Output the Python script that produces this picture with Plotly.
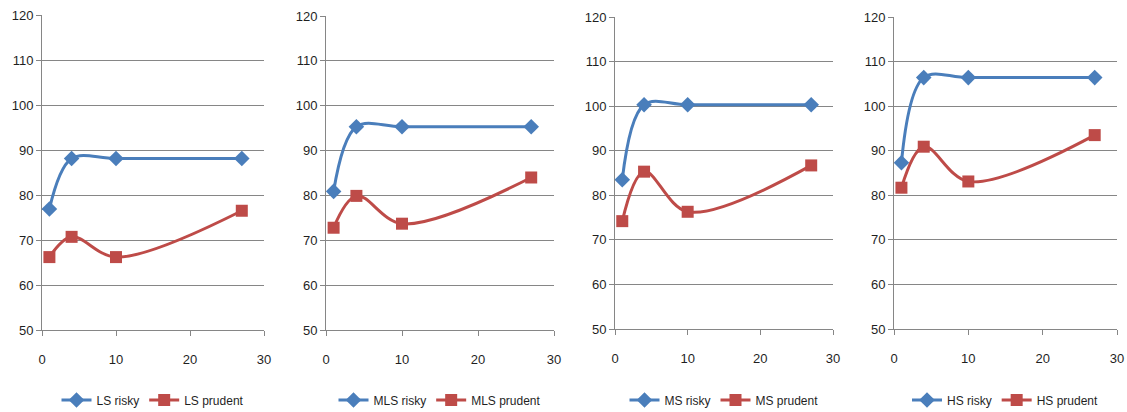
import plotly.graph_objects as go

x_vals = [1, 4, 10, 27]
groups = ["LS", "MLS", "MS", "HS"]
risky = {
    "LS": [76.9, 88.1, 88.1, 88.1],
    "MLS": [80.9, 95.3, 95.3, 95.3],
    "MS": [83.5, 100.3, 100.3, 100.3],
    "HS": [87.3, 106.4, 106.4, 106.4],
}
prudent = {
    "LS": [66.2, 70.7, 66.2, 76.5],
    "MLS": [72.8, 79.9, 73.7, 84.0],
    "MS": [74.2, 85.3, 76.3, 86.7],
    "HS": [81.7, 90.9, 83.1, 93.5],
}
x_ticks = [0, 10, 20, 30]
y_ticks = [50, 60, 70, 80, 90, 100, 110, 120]

W, H = 1127, 412
# plot-area pixel boxes (left, right, top, bottom)
boxes = [(42, 264, 15, 330), (326, 554, 16, 330), (615, 833, 17, 329), (894, 1117, 17, 329)]

BLUE = "#4A7EBB"
RED = "#BE4B48"
FONT = "Liberation Sans, Arial, sans-serif"
TXT = "#1f1f1f"

fig = go.Figure()
layout = dict(
    width=W, height=H, margin=dict(l=0, r=0, t=0, b=0, autoexpand=False),
    paper_bgcolor="white", plot_bgcolor="white",
    font=dict(family=FONT, size=13, color=TXT),
)
for i, g in enumerate(groups):
    n = "" if i == 0 else str(i + 1)
    l, r, t, b = boxes[i]
    lg = "legend" if i == 0 else f"legend{i+1}"
    fig.add_trace(go.Scatter(
        x=x_vals, y=risky[g], name=f"{g} risky", mode="lines+markers",
        line=dict(color=BLUE, width=3, shape="spline", smoothing=1),
        marker=dict(symbol="diamond", size=12, color=BLUE),
        xaxis="x" + n, yaxis="y" + n, legend=lg,
    ))
    fig.add_trace(go.Scatter(
        x=x_vals, y=prudent[g], name=f"{g} prudent", mode="lines+markers",
        line=dict(color=RED, width=3, shape="spline", smoothing=1),
        marker=dict(symbol="square", size=12, color=RED),
        xaxis="x" + n, yaxis="y" + n, legend=lg,
    ))
    layout["xaxis" + n] = dict(
        domain=[l / W, r / W], range=[0, 30], tickvals=x_ticks,
        showgrid=False, zeroline=False, showline=True, linecolor="#868686",
        linewidth=1, ticks="outside", ticklen=5, tickcolor="#868686",
        anchor="y" + n, fixedrange=True, tickfont=dict(size=13, color=TXT),
        automargin=False, ticklabeloverflow="allow", ticklabelstandoff=12,
    )
    layout["yaxis" + n] = dict(
        domain=[(H - b) / H, (H - t) / H], range=[50, 120], tickvals=y_ticks,
        showgrid=True, gridcolor="#868686", gridwidth=1, zeroline=False,
        showline=True, linecolor="#868686", linewidth=1, ticks="outside",
        ticklen=5, tickcolor="#868686", anchor="x" + n, fixedrange=True,
        tickfont=dict(size=13, color=TXT), automargin=False,
        ticklabeloverflow="allow",
    )
    layout[lg] = dict(
        orientation="h", x=(l + r) / 2 / W, xanchor="center",
        y=(H - 400) / H, yanchor="middle",
        font=dict(size=12, family=FONT, color=TXT),
        bgcolor="rgba(0,0,0,0)", itemwidth=30, tracegroupgap=0,
    )
fig.update_layout(**layout)
fig.write_html(
    "out.html",
    config={"displayModeBar": False},
    post_script="document.body.style.margin='0';document.body.style.overflow='hidden';",
)
